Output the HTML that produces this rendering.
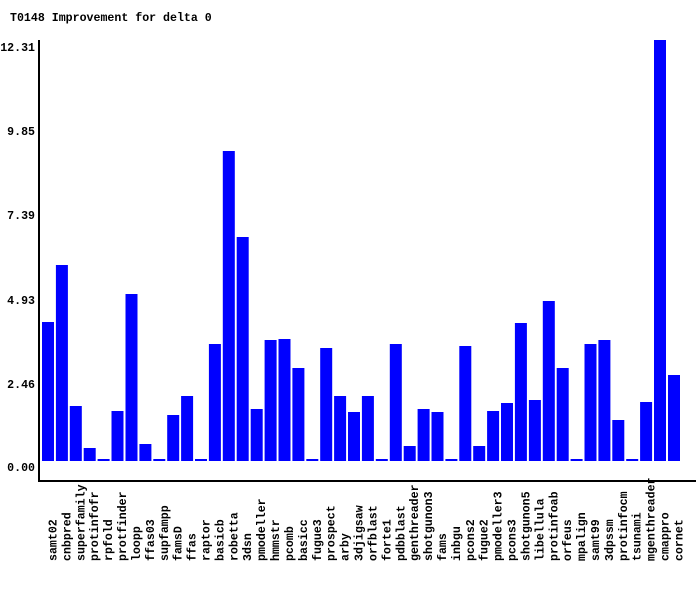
<!DOCTYPE html><html><head><style>body{margin:0;background:#fff}svg text{font-family:"Liberation Mono","DejaVu Sans Mono",monospace;font-weight:bold;font-size:11.6px;fill:#000}</style></head><body>
<svg width="700" height="590" xmlns="http://www.w3.org/2000/svg">
<text x="10" y="21">T0148 Improvement for delta 0</text>
<g text-anchor="end">
<text x="35" y="51">12.31</text><text x="35" y="135">9.85</text><text x="35" y="219">7.39</text><text x="35" y="304">4.93</text><text x="35" y="388">2.46</text><text x="35" y="471">0.00</text>
</g>
<rect x="38" y="40" width="2" height="442" fill="#000"/>
<rect x="38" y="480" width="658" height="2" fill="#000"/>
<g id="bars" fill="#00f"></g>
<g id="labels"></g>
<script>
var n=["samt02","cnbpred","superfamily","protinfofr","rpfold","protfinder","loopp","ffas03","supfampp","famsD","ffas","raptor","basicb","robetta","3dsn","pmodeller","hmmstr","pcomb","basicc","fugue3","prospect","arby","3djigsaw","orfblast","forte1","pdbblast","genthreader","shotgunon3","fams","inbgu","pcons2","fugue2","pmodeller3","pcons3","shotgunon5","libellula","protinfoab","orfeus","mpalign","samt99","3dpssm","protinfocm","tsunami","mgenthreader","cmappro","cornet"];
var t=[322,265,406,448,459,411,294,444,459,415,396,459,344,151,237,409,340,339,368,459,348,396,412,396,459,344,446,409,412,459,346,446,411,403,323,400,301,368,459,344,340,420,459,402,40,375];
var b=document.getElementById("bars"),l=document.getElementById("labels"),s="http://www.w3.org/2000/svg";
for(var i=0;i<46;i++){var x=42+i*13.91;var r=document.createElementNS(s,"rect");r.setAttribute("x",x.toFixed(1));r.setAttribute("y",t[i]);r.setAttribute("width",12);r.setAttribute("height",461-t[i]);b.appendChild(r);
var tx=document.createElementNS(s,"text");var cx=x+14.5;tx.setAttribute("transform","translate("+cx.toFixed(1)+",561) rotate(-90)");tx.textContent=n[i];l.appendChild(tx);}
</script>
</svg></body></html>
